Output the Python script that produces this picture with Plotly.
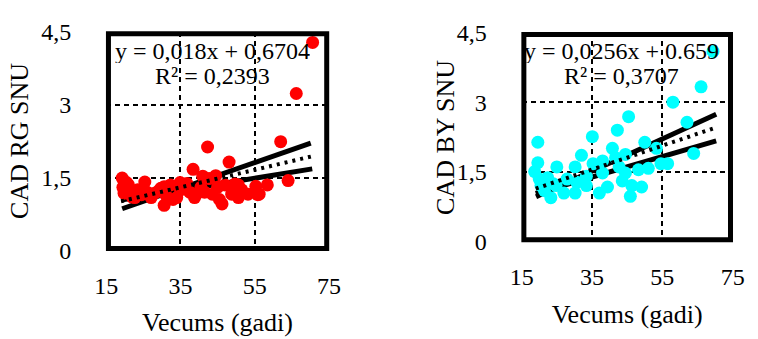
import plotly.graph_objects as go

# --- data -------------------------------------------------------------
age_rg = [19.3, 19.5, 19.8, 20.5, 21.0, 21.5, 22.0, 22.7, 23.5, 24.5, 25.4, 26.0,
          27.1, 28.0, 29.0, 29.7, 30.6, 30.6, 31.0, 32.3, 33.0, 34.0, 34.9, 35.0,
          36.7, 37.5, 38.4, 38.8, 39.3, 40.5, 41.0, 41.5, 42.3, 42.7, 43.6, 44.5,
          45.0, 45.5, 46.2, 47.0, 48.1, 48.8, 49.5, 49.7, 50.6, 50.6, 51.5, 53.2,
          55.3, 55.8, 56.2, 58.4, 62.0, 64.0, 66.2, 70.6]
cad_rg = [1.49, 1.30, 1.18, 1.40, 1.35, 1.22, 1.10, 1.09, 1.25, 1.15, 1.41, 1.20,
          1.09, 1.18, 1.22, 1.28, 0.93, 1.31, 1.15, 1.35, 1.05, 1.09, 1.40, 1.25,
          1.38, 1.20, 1.67, 1.09, 1.16, 1.30, 1.53, 1.20, 2.13, 1.48, 1.16, 1.54,
          1.30, 1.05, 0.96, 1.35, 1.82, 1.16, 1.30, 1.37, 1.35, 1.09, 1.25, 1.16,
          1.32, 1.15, 1.16, 1.35, 2.24, 1.44, 3.23, 4.28]

age_by = [18.7, 19.6, 19.6, 20.0, 20.5, 21.5, 22.4, 23.3, 24.0, 24.8, 25.0, 27.0,
          27.9, 30.2, 30.2, 30.7, 32.0, 33.4, 33.4, 35.1, 35.3, 37.1, 38.0, 38.0,
          39.4, 40.8, 41.7, 42.2, 42.7, 43.6, 44.5, 44.5, 45.4, 45.9, 46.3, 48.2,
          49.1, 50.0, 51.0, 53.3, 54.6, 56.5, 58.0, 62.0, 63.9, 66.0, 69.4]
cad_by = [1.51, 1.70, 2.14, 1.35, 1.21, 1.10, 1.38, 0.95, 1.25, 1.21, 1.61, 1.05,
          1.35, 1.61, 1.05, 1.28, 1.86, 1.41, 1.21, 2.26, 1.68, 1.05, 1.74, 1.48,
          1.18, 2.01, 1.81, 2.40, 1.61, 1.31, 1.88, 1.48, 2.69, 0.98, 1.21, 1.55,
          1.18, 2.14, 1.58, 2.01, 1.68, 1.68, 3.00, 2.57, 1.90, 3.33, 4.09]

# regression coefficients (slope, intercept) and fitted x-span
fit_rg = (0.018, 0.6704)
fit_by = (0.0256, 0.659)
span_rg = [19.0, 70.5]
span_by = [19.0, 70.3]

# the two additional solid reference lines per panel (x pairs, y pairs)
line_rg_a = ([19.3, 70.1], [0.86, 2.21])
line_rg_b = ([19.0, 70.5], [1.04, 1.68])
line_by_a = ([19.1, 70.3], [0.97, 2.74])
line_by_b = ([19.0, 70.3], [1.04, 2.17])

eq_rg = ["y = 0,018x + 0,6704", "R² = 0,2393"]
eq_by = ["y = 0,0256x + 0.659", "R² = 0,3707"]

x_title = "Vecums (gadi)"
y_titles = ["CAD RG SNU", "CAD BY SNU"]

# --- layout geometry (pixels in a 758 x 339 page) ---------------------
W, H = 758, 339
FONT = "Liberation Serif"
panels = [
    dict(px=(97.3, 327.3), py=(20.3, 257.3), eq_y=(4.10, 3.585), ytitle_x=7),
    dict(px=(526.3, 744.3), py=(20.9, 248.0), eq_y=(4.10, 3.565), ytitle_x=447),
]

fig = go.Figure()

def add_panel(i, ages, cads, color, fit, span, la, lb, eq):
    xa = "x" if i == 0 else "x2"
    ya = "y" if i == 0 else "y2"
    # solid lines underneath the markers
    for xs, ys in (la, lb):
        fig.add_trace(go.Scatter(x=xs, y=ys, mode="lines", xaxis=xa, yaxis=ya,
                                 line=dict(color="black", width=5),
                                 showlegend=False))
    fig.add_trace(go.Scatter(x=ages, y=cads, mode="markers", xaxis=xa, yaxis=ya,
                             marker=dict(size=13, color=color), showlegend=False))
    # dotted regression line on top
    m, b = fit
    fig.add_trace(go.Scatter(x=span, y=[m * v + b for v in span], mode="lines",
                             xaxis=xa, yaxis=ya,
                             line=dict(color="black", width=4, dash="3px,5px"),
                             showlegend=False))
    ey = panels[i]["eq_y"]
    for txt, yv in zip(eq, ey):
        fig.add_annotation(x=43.5, y=yv, xref=xa, yref=ya, text=txt, height=24,
                           showarrow=False,
                           font=dict(family=FONT, size=24, color="black"))

add_panel(0, age_rg, cad_rg, "#FF0000", fit_rg, span_rg, line_rg_a, line_rg_b, eq_rg)
add_panel(1, age_by, cad_by, "#00FFFF", fit_by, span_by, line_by_a, line_by_b, eq_by)

axis_common = dict(
    showline=False, zeroline=False, showgrid=True,
    gridcolor="black", gridwidth=1.5, griddash="5px,4px",
    ticks="", tickfont=dict(family=FONT, size=24, color="black"),
)
title_font = dict(family=FONT, size=26, color="black")

shapes = []
for i, p in enumerate(panels):
    x0, x1 = p["px"]
    y0, y1 = p["py"]
    sfx = "" if i == 0 else "2"
    fig.layout["xaxis" + sfx] = dict(
        axis_common, domain=[x0 / W, x1 / W], range=[15, 75],
        tick0=15, dtick=20, anchor="y" + sfx, ticklabelstandoff=18,
        title=dict(text=x_title, standoff=15, font=title_font))
    fig.layout["yaxis" + sfx] = dict(
        axis_common, domain=[1 - y1 / H, 1 - y0 / H], range=[0, 4.5],
        tick0=0, dtick=1.5, anchor="x" + sfx, ticklabelstandoff=34)
    # vertical axis title, centred on the plotting area
    fig.add_annotation(x=p["ytitle_x"] / W, y=1 - (y0 + y1) / 2 / H,
                       xref="paper", yref="paper", text=y_titles[i],
                       textangle=-90, showarrow=False,
                       xanchor="center", yanchor="middle", font=title_font)
    # heavy frame drawn just inside the plotting area
    ins = 2.3
    shapes.append(dict(type="rect", xref="paper", yref="paper",
                       x0=(x0 + ins) / W, x1=(x1 - ins) / W,
                       y0=1 - (y1 - ins) / H, y1=1 - (y0 + ins) / H,
                       line=dict(color="black", width=5), layer="above"))

fig.update_layout(
    width=W, height=H, margin=dict(l=0, r=0, t=0, b=0),
    paper_bgcolor="white", plot_bgcolor="white",
    separators=", ", showlegend=False, shapes=shapes,
    font=dict(family=FONT, color="black"),
)

fig.write_html("out.html")
